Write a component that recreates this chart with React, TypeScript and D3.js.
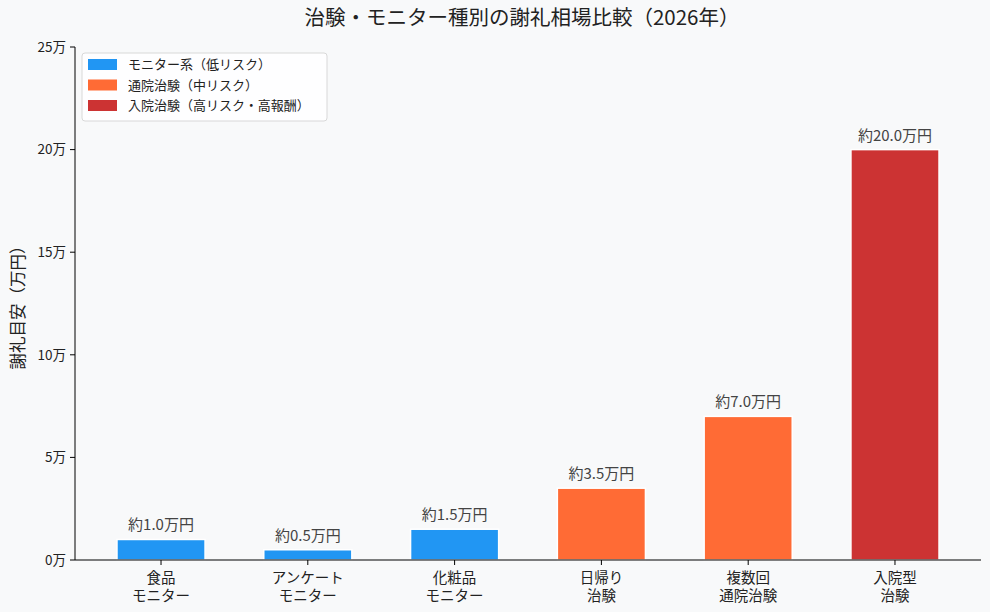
import React from "react";
import * as d3 from "d3";

const categories = ["食品\nモニター", "アンケート\nモニター", "化粧品\nモニター", "日帰り\n治験", "複数回\n通院治験", "入院型\n治験"];
const values = [1.0, 0.5, 1.5, 3.5, 7.0, 20.0];
const groups = [0, 0, 0, 1, 1, 2];
const groupNames = ["モニター系（低リスク）", "通院治験（中リスク）", "入院治験（高リスク・高報酬）"];
const groupColors = ["#2196F3", "#FF6B35", "#CC3333"];
const yTicks = [0, 5, 10, 15, 20, 25];

const W = 990;
const H = 612;
const FONT = "'Noto Sans CJK JP', 'Noto Sans', sans-serif";

const App = () => {
  const left = 75;
  const right = 981;
  const top = 47;
  const bottom = 560;

  const x = d3.scaleLinear().domain([-0.586, categories.length - 1 + 0.586]).range([left, right]);
  const y = d3.scaleLinear().domain([0, 25]).range([bottom, top]);
  const barW = x(0.6) - x(0);

  return (
    <svg width={W} height={H} style={{ position: "absolute", left: 0, top: 0, background: "#F8F9FA" }} fontFamily={FONT}>
      <rect width={W} height={H} fill="#F8F9FA" />
      <text x={522} y={25} textAnchor="middle" fontSize={20.5} fill="#222">
        治験・モニター種別の謝礼相場比較（2026年）
      </text>

      {/* bars */}
      {values.map((v, i) => (
        <g key={i}>
          <rect
            x={x(i) - barW / 2}
            y={y(v)}
            width={barW}
            height={y(0) - y(v)}
            fill={groupColors[groups[i]]}
            stroke="#fff"
            strokeWidth={1.5}
          />
          <text x={x(i)} y={y(v) - 9} textAnchor="middle" fontSize={15} fill="#444">
            {`約${v.toFixed(1)}万円`}
          </text>
        </g>
      ))}

      {/* y axis */}
      <line x1={left} x2={left} y1={top} y2={bottom} stroke="#000" strokeWidth={1} />
      {yTicks.map(t => (
        <g key={t}>
          <line x1={left - 5} x2={left} y1={y(t)} y2={y(t)} stroke="#000" />
          <text x={left - 9} y={y(t)} dy="0.35em" textAnchor="end" fontSize={13.5} fill="#222">
            {`${t}万`}
          </text>
        </g>
      ))}
      <text
        transform={`translate(24 ${(top + bottom) / 2}) rotate(-90)`}
        textAnchor="middle"
        fontSize={16.5}
        fill="#222"
      >
        謝礼目安（万円）
      </text>

      {/* x axis */}
      <line x1={left} x2={right} y1={bottom} y2={bottom} stroke="#000" strokeWidth={1} />
      {categories.map((c, i) => (
        <g key={i}>
          <line x1={x(i)} x2={x(i)} y1={bottom} y2={bottom + 5} stroke="#000" />
          <text x={x(i)} textAnchor="middle" fontSize={14.5} fill="#222">
            {c.split("\n").map((line, j) => (
              <tspan key={j} x={x(i)} y={bottom + 23 + j * 17.5}>
                {line}
              </tspan>
            ))}
          </text>
        </g>
      ))}

      {/* legend */}
      <rect x={82} y={53} width={245} height={68} rx={3} fill="#fff" fillOpacity={0.85} stroke="#d8d8d8" />
      {groupNames.map((g, i) => (
        <g key={i}>
          <rect x={88} y={59 + i * 20.5} width={29} height={11} fill={groupColors[i]} />
          <text x={128} y={64.5 + i * 20.5} dy="0.35em" fontSize={13} fill="#222">
            {g}
          </text>
        </g>
      ))}
    </svg>
  );
};

export default App;
